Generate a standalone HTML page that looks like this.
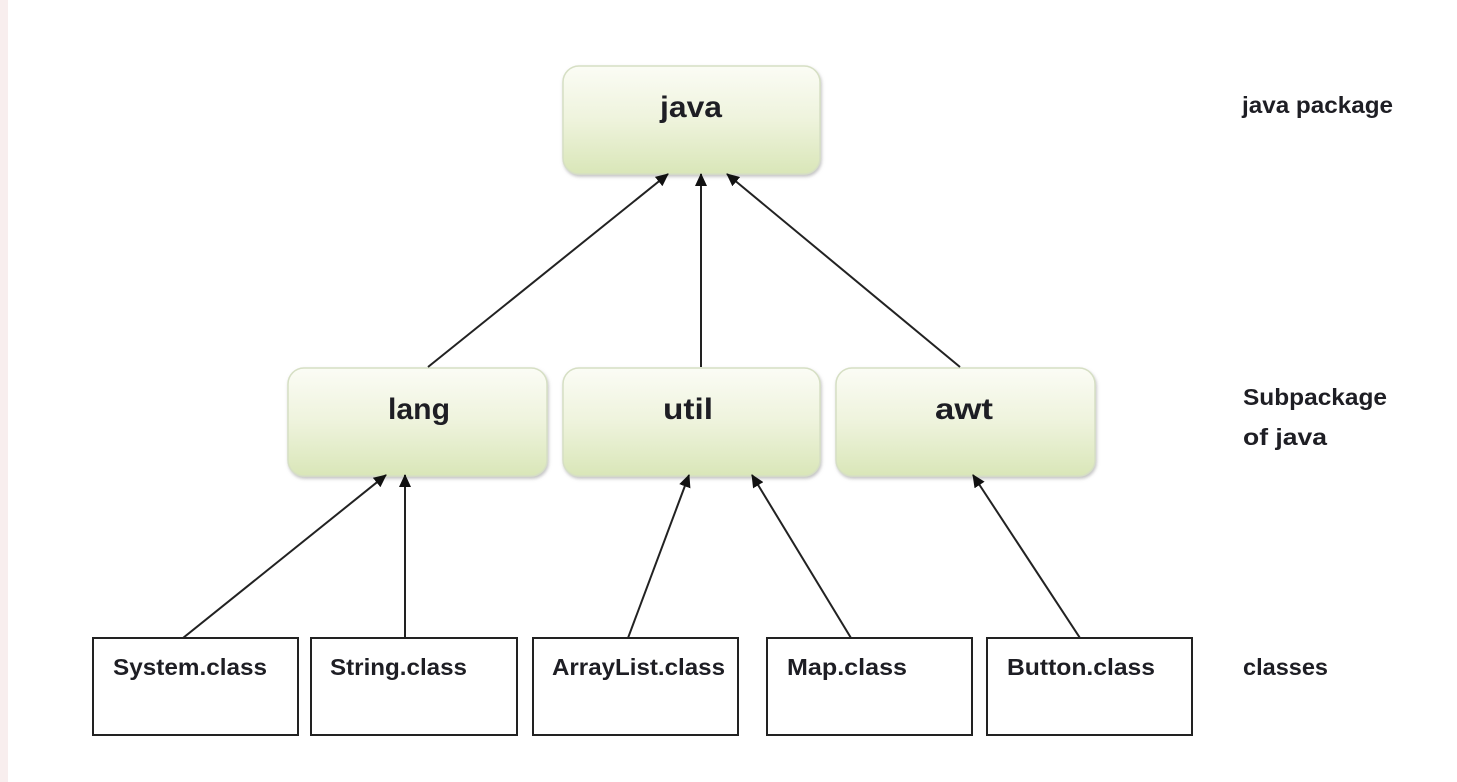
<!DOCTYPE html>
<html><head><meta charset="utf-8"><style>
html,body{margin:0;padding:0;background:#fff;}
svg{display:block;}
text{font-family:"Liberation Sans",sans-serif;font-weight:bold;fill:#1e1e24;}
</style></head><body>
<svg width="1457" height="782" viewBox="0 0 1457 782" xmlns="http://www.w3.org/2000/svg">
<defs>
<linearGradient id="g" x1="0" y1="0" x2="0" y2="1">
<stop offset="0" stop-color="#fbfcf5"/>
<stop offset="0.5" stop-color="#eef3dc"/>
<stop offset="1" stop-color="#d9e6b8"/>
</linearGradient>
<marker id="a" markerWidth="13" markerHeight="12" refX="12" refY="6" orient="auto" markerUnits="userSpaceOnUse">
<path d="M0,0 L13,6 L0,12 z" fill="#111"/>
</marker>
<filter id="s" x="-10%" y="-10%" width="120%" height="130%"><feDropShadow dx="1" dy="2" stdDeviation="1.5" flood-color="#999" flood-opacity="0.6"/></filter>
</defs>
<rect x="0" y="0" width="8" height="782" fill="#f8eeee"/>
<g filter="url(#s)" stroke="#d6dfc4" stroke-width="1.5" fill="url(#g)">
<rect x="563" y="66" width="257" height="108" rx="16"/>
<rect x="288" y="368" width="259" height="108" rx="16"/>
<rect x="563" y="368" width="257" height="108" rx="16"/>
<rect x="836" y="368" width="259" height="108" rx="16"/>
</g>
<g stroke="#222" stroke-width="2" fill="none" marker-end="url(#a)">
<line x1="428" y1="367" x2="668" y2="174"/>
<line x1="701" y1="367" x2="701" y2="174"/>
<line x1="960" y1="367" x2="727" y2="174"/>
<line x1="183" y1="638" x2="386" y2="475"/>
<line x1="405" y1="638" x2="405" y2="475"/>
<line x1="628" y1="638" x2="689" y2="475"/>
<line x1="851" y1="638" x2="752" y2="475"/>
<line x1="1080" y1="638" x2="973" y2="475"/>
</g>
<g stroke="#222" stroke-width="2" fill="#fff">
<rect x="93" y="638" width="205" height="97"/>
<rect x="311" y="638" width="206" height="97"/>
<rect x="533" y="638" width="205" height="97"/>
<rect x="767" y="638" width="205" height="97"/>
<rect x="987" y="638" width="205" height="97"/>
</g>
<g font-size="30">
<text x="660" y="117" textLength="62" lengthAdjust="spacingAndGlyphs">java</text>
<text x="388" y="419" textLength="62" lengthAdjust="spacingAndGlyphs">lang</text>
<text x="663" y="419" textLength="50" lengthAdjust="spacingAndGlyphs">util</text>
<text x="935" y="419" textLength="58" lengthAdjust="spacingAndGlyphs">awt</text>
</g>
<g font-size="23">
<text x="113" y="675" textLength="154" lengthAdjust="spacingAndGlyphs">System.class</text>
<text x="330" y="675" textLength="137" lengthAdjust="spacingAndGlyphs">String.class</text>
<text x="552" y="675" textLength="173" lengthAdjust="spacingAndGlyphs">ArrayList.class</text>
<text x="787" y="675" textLength="120" lengthAdjust="spacingAndGlyphs">Map.class</text>
<text x="1007" y="675" textLength="148" lengthAdjust="spacingAndGlyphs">Button.class</text>
<text x="1243" y="675" textLength="85" lengthAdjust="spacingAndGlyphs">classes</text>
<text x="1242" y="113" textLength="151" lengthAdjust="spacingAndGlyphs">java package</text>
<text x="1243" y="405" textLength="144" lengthAdjust="spacingAndGlyphs">Subpackage</text>
<text x="1243" y="445" textLength="84" lengthAdjust="spacingAndGlyphs">of  java</text>
</g>
</svg>
</body></html>
